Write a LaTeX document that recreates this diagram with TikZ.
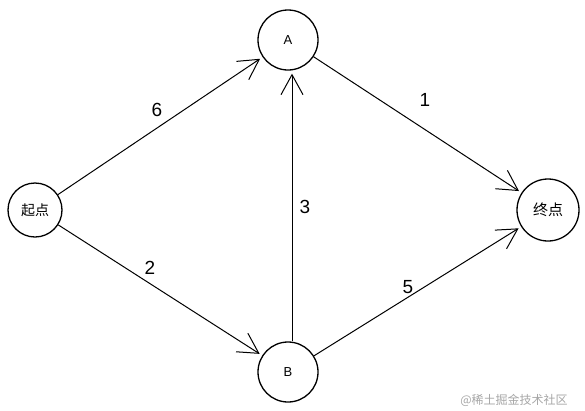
\documentclass[tikz,border=0pt]{standalone}
\usepackage{fontspec}
\setmainfont{Liberation Sans}
\newfontfamily\cjk{Noto Sans CJK SC}
\usetikzlibrary{arrows.meta,positioning}

\begin{document}
\begin{tikzpicture}[
  x=1pt, y=-1pt,
  every node/.style={circle, draw, line width=1.3pt, minimum size=60pt, font=\fontsize{13}{15}\selectfont, inner sep=1pt},
  lbl/.style={draw=none, minimum size=0pt, font=\fontsize{19}{21}\selectfont},
  edge/.style={draw, -{Straight Barb[length=20pt, width=22pt]}, line width=1pt, shorten >=3pt}
]
\useasboundingbox (0,0) rectangle (585,410);

\node[minimum size=54pt] (start) at (35,210) {\cjk\fontsize{14}{16}\selectfont 起点};
\node (A) at (288,40) {A};
\node (B) at (288,372) {B};
\node[minimum size=62pt] (end) at (548,210) {\cjk\fontsize{15}{17}\selectfont 终点};

\draw[edge] (start) -- (A);
\draw[edge] (start) -- (B);
\draw[edge] (A) -- (end);
\draw[edge] (B) -- (end);
\draw[edge] ([xshift=4pt]B.north) -- ([xshift=4pt]A.south);

\node[lbl] (w6) at (157,110) {6};
\node[lbl] (w2) at (150,268) {2};
\node[lbl] (w1) at (425,100) {1};
\node[lbl] (w3) at (305,207) {3};
\node[lbl] (w5) at (408,287) {5};

\node[draw=none, minimum size=0pt, text=black!35, font=\cjk\fontsize{12}{14}\selectfont] (mark) at (514,400) {@稀土掘金技术社区};

\end{tikzpicture}
\end{document}
